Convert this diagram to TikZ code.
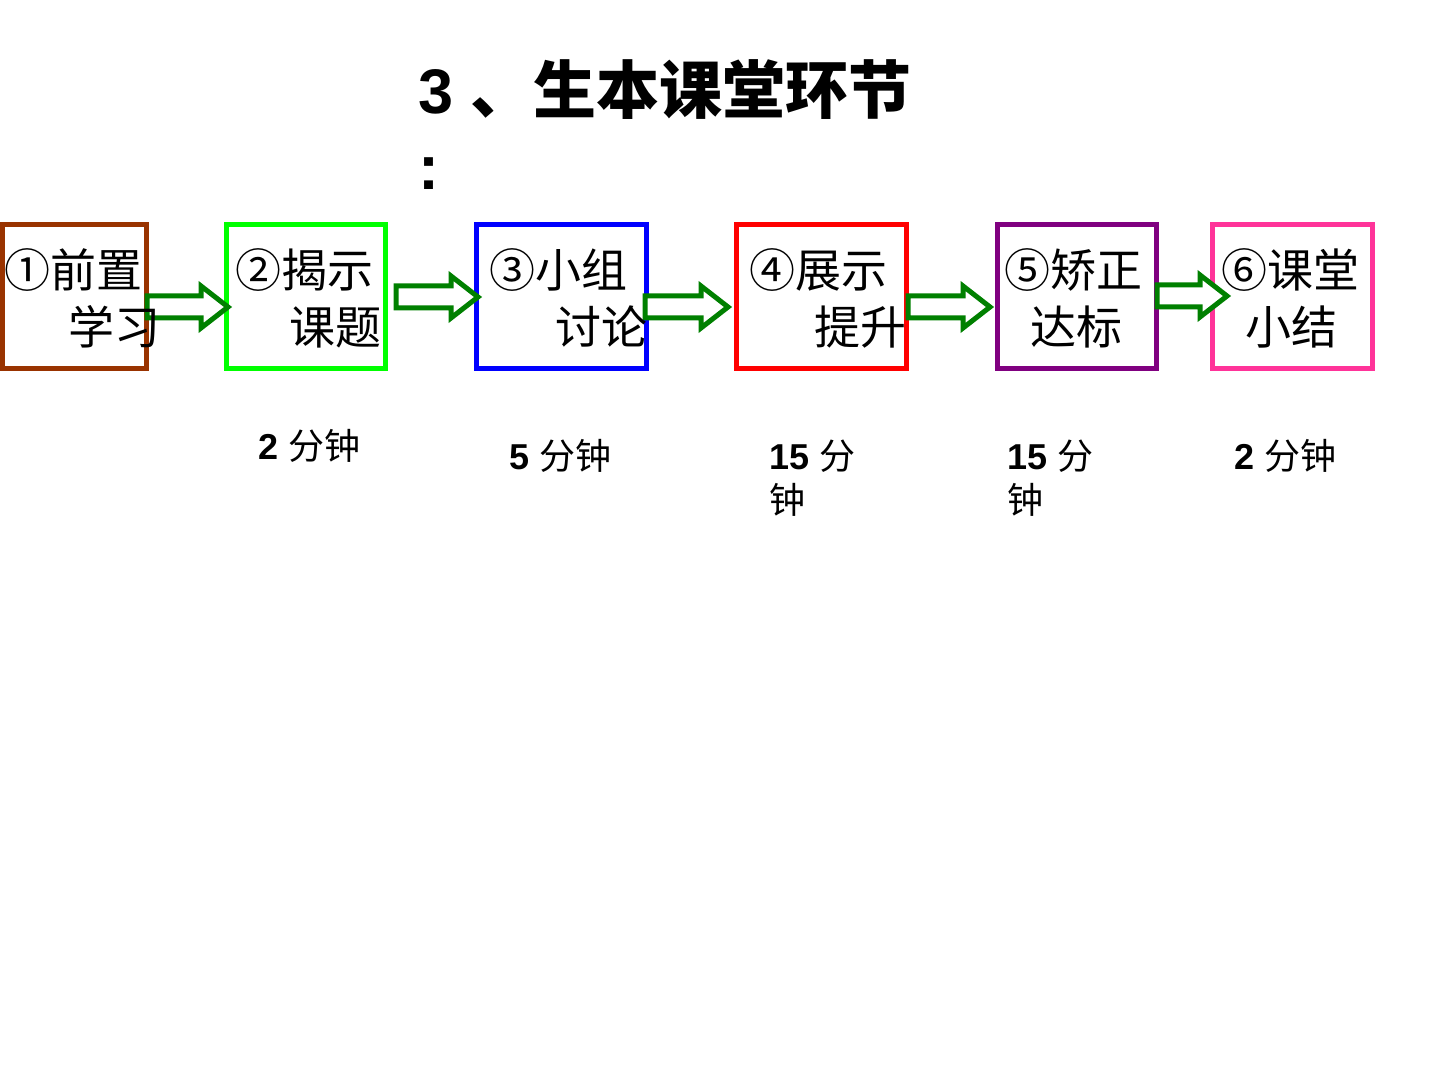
\documentclass[tikz,border=0pt]{standalone}
\usepackage{fontspec}
\setmainfont{Liberation Sans}
\newfontfamily\cjk{Noto Sans CJK SC}
\definecolor{cbrown}{RGB}{153,51,0}
\definecolor{clime}{RGB}{0,255,0}
\definecolor{cblue}{RGB}{0,0,255}
\definecolor{cred}{RGB}{255,0,0}
\definecolor{cpurple}{RGB}{128,0,128}
\definecolor{cpink}{RGB}{255,51,153}
\definecolor{carrow}{RGB}{0,128,0}
\newcommand{\blockarr}[3]{% left x, tip x, tip y
  \draw[arrowst] (#1,{#3-11}) -- ({#2-27},{#3-11}) -- ({#2-27},{#3-21}) -- (#2,#3)
    -- ({#2-27},{#3+21}) -- ({#2-27},{#3+11}) -- (#1,{#3+11}) -- cycle;}
\begin{document}
\begin{tikzpicture}[x=0.5pt,y=-0.5pt,
  stepbox/.style={draw, line width=2.5pt, fill=white, inner sep=0pt, minimum height=72pt},
  btxt/.style={font=\cjk\fontsize{23pt}{23pt}\selectfont, anchor=west, inner sep=0pt},
  ttxt/.style={font=\fontsize{18pt}{18pt}\selectfont, anchor=base west, inner sep=0pt},
  arrowst/.style={draw=carrow, line width=2.5pt, fill=white, line join=miter}]
\useasboundingbox (0,0) rectangle (1440,1080);
% title
\node[anchor=west, inner sep=0pt, font=\fontsize{31.5pt}{31.5pt}\selectfont] (title) at (418,90)
  {\bfseries 3 {\cjk\bfseries 、生本课堂环节}};
\node[anchor=base, inner sep=0pt, font=\fontsize{31.5pt}{31.5pt}\selectfont\bfseries] (colon) at (429,190) {:};
% boxes
\node[stepbox, draw=cbrown, minimum width=72pt] (b1) at (74.5,296.5) {};
\node[stepbox, draw=clime, minimum width=79.5pt] (b2) at (306,296.5) {};
\node[stepbox, draw=cblue, minimum width=85pt] (b3) at (561.5,296.5) {};
\node[stepbox, draw=cred, minimum width=85pt] (b4) at (821.5,296.5) {};
\node[stepbox, draw=cpurple, minimum width=79.5pt] (b5) at (1077,296.5) {};
\node[stepbox, draw=cpink, minimum width=80pt] (b6) at (1292.5,296.5) {};
% arrows
\blockarr{147}{228}{307}
\blockarr{396}{478}{297}
\blockarr{645}{728}{307}
\blockarr{908}{990}{307}
\blockarr{1157}{1227}{296}
% box texts
\node[btxt] (t1a) at (4,270) {①前置};
\node[btxt] (t1b) at (68,327) {学习};
\node[btxt] (t2a) at (235,270) {②揭示};
\node[btxt] (t2b) at (289,327) {课题};
\node[btxt] (t3a) at (489,270) {③小组};
\node[btxt] (t3b) at (555,327) {讨论};
\node[btxt] (t4a) at (749,270) {④展示};
\node[btxt] (t4b) at (814,327) {提升};
\node[btxt] (t5a) at (1004,270) {⑤矫正};
\node[btxt] (t5b) at (1030,327) {达标};
\node[btxt] (t6a) at (1221,270) {⑥课堂};
\node[btxt] (t6b) at (1245,327) {小结};
% time labels
\node[ttxt] (m2) at (258,459) {\bfseries 2 {\cjk\mdseries 分钟}};
\node[ttxt] (m3) at (509,470) {\bfseries 5 {\cjk\mdseries 分钟}};
\node[ttxt] (m4) at (769,470) {\bfseries 15 {\cjk\mdseries 分}};
\node[ttxt] (m4b) at (769,513) {\cjk 钟};
\node[ttxt] (m5) at (1007,470) {\bfseries 15 {\cjk\mdseries 分}};
\node[ttxt] (m5b) at (1007,513) {\cjk 钟};
\node[ttxt] (m6) at (1234,470) {\bfseries 2 {\cjk\mdseries 分钟}};
\end{tikzpicture}
\end{document}
